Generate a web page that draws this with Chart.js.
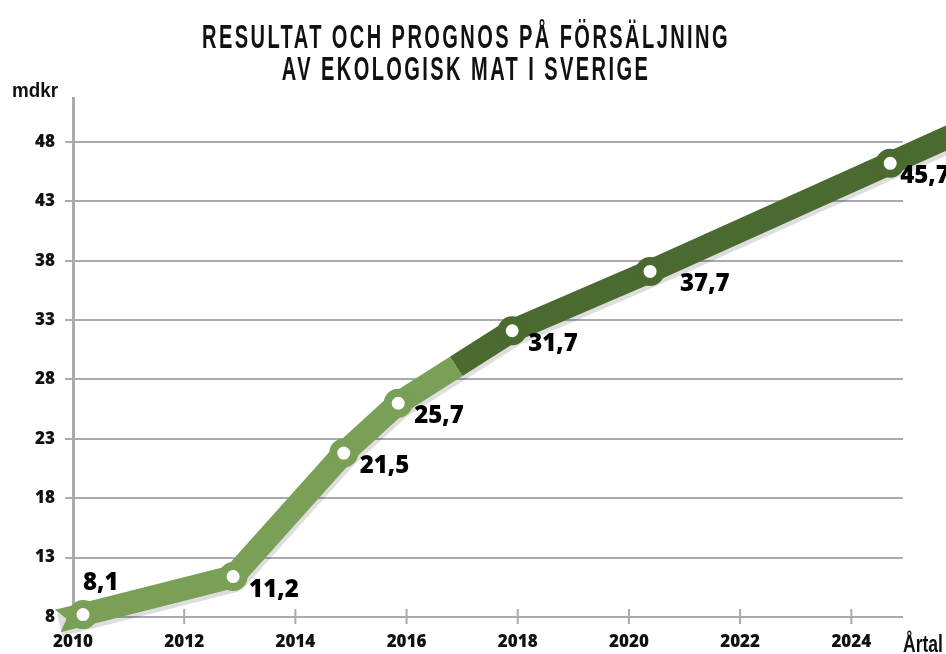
<!DOCTYPE html>
<html>
<head>
<meta charset="utf-8">
<script src="https://cdn.jsdelivr.net/npm/chart.js@4.4.1/dist/chart.umd.min.js"></script>
<style>
  html, body { margin: 0; padding: 0; background: #fff; }
</style>
</head>
<body>
<canvas id="ekoChart" width="946" height="654"></canvas>
<script>
// data
const years = [2010.18, 2012.88, 2014.87, 2015.85, 2017.9, 2020.38, 2024.7];
const sales = [8.2, 11.4, 21.8, 26.0, 32.1, 37.1, 46.2];
const salesLabels = ['8,1', '11,2', '21,5', '25,7', '31,7', '37,7', '45,7'];
const yTicks = [8, 13, 18, 23, 28, 33, 38, 43, 48];
const xTicks = [2010, 2012, 2014, 2016, 2018, 2020, 2022, 2024];
const titleLines = ['RESULTAT OCH PROGNOS PÅ FÖRSÄLJNING', 'AV EKOLOGISK MAT I SVERIGE'];
const yUnit = 'mdkr';
const xUnit = 'Årtal';
const forecastFrom = 2016.9; // where the line turns dark (prognos)

const light = '#7a9f56';
const dark = '#4a6a2f';
const gridGray = '#a9abb0';
const headFont = '"Liberation Sans", Arial, sans-serif';
const bodyFont = '"Open Sans", "Noto Sans", sans-serif';

const lineGradient = ctx => {
  const chart = ctx.chart;
  if (!chart.chartArea) return light;
  const i = years.findIndex(y => y > forecastFrom);
  const xs = chart.scales.x, ys = chart.scales.y;
  const x0 = xs.getPixelForValue(years[i - 1]), y0 = ys.getPixelForValue(sales[i - 1]);
  const x1 = xs.getPixelForValue(years[i]), y1 = ys.getPixelForValue(sales[i]);
  const f = (forecastFrom - years[i - 1]) / (years[i] - years[i - 1]);
  const g = chart.ctx.createLinearGradient(x0, y0, x1, y1);
  g.addColorStop(0, light);
  g.addColorStop(f, light);
  g.addColorStop(f, dark);
  g.addColorStop(1, dark);
  return g;
};

// shadow + the arrow tail and the run-out past the last point
const lineExtras = {
  id: 'lineExtras',
  beforeDatasetsDraw(chart) {
    const pts = chart.getDatasetMeta(0).data;
    if (pts.length < 2) return;
    const ctx = chart.ctx;
    const w = chart.data.datasets[0].borderWidth / 2;
    const a = pts[0], b = pts[1];
    let len = Math.hypot(b.x - a.x, b.y - a.y);
    const u = { x: (b.x - a.x) / len, y: (b.y - a.y) / len };
    const n = { x: -u.y, y: u.x };
    const p = pts[pts.length - 2], q = pts[pts.length - 1];
    len = Math.hypot(q.x - p.x, q.y - p.y);
    const v = { x: (q.x - p.x) / len, y: (q.y - p.y) / len };
    const tail = 26;
    const start = { x: a.x - u.x * tail, y: a.y - u.y * tail };
    const end = { x: q.x + v.x * 120, y: q.y + v.y * 120 };

    ctx.save();
    // soft gray shadow under the whole band
    ctx.translate(2, 4);
    ctx.strokeStyle = 'rgba(0,0,0,0.13)';
    ctx.lineWidth = w * 2;
    ctx.lineJoin = 'round';
    ctx.beginPath();
    ctx.moveTo(start.x, start.y);
    pts.forEach(pt => ctx.lineTo(pt.x, pt.y));
    ctx.lineTo(end.x, end.y);
    ctx.stroke();
    ctx.restore();

    ctx.save();
    // swallow tail at the start
    ctx.fillStyle = light;
    ctx.beginPath();
    ctx.moveTo(a.x + n.x * w, a.y + n.y * w);
    ctx.lineTo(start.x + n.x * w, start.y + n.y * w);
    ctx.lineTo(start.x + u.x * 9, start.y + u.y * 9);
    ctx.lineTo(start.x - n.x * w, start.y - n.y * w);
    ctx.lineTo(a.x - n.x * w, a.y - n.y * w);
    ctx.closePath();
    ctx.fill();
    // run out at the end
    ctx.strokeStyle = dark;
    ctx.lineWidth = w * 2;
    ctx.beginPath();
    ctx.moveTo(q.x, q.y);
    ctx.lineTo(end.x, end.y);
    ctx.stroke();
    ctx.restore();
  }
};

// tick marks crossing the base line
const xTickMarks = {
  id: 'xTickMarks',
  beforeDatasetsDraw(chart) {
    const ctx = chart.ctx, xs = chart.scales.x, bottom = chart.chartArea.bottom;
    ctx.save();
    ctx.strokeStyle = gridGray;
    ctx.lineWidth = 2;
    xTicks.slice(1).forEach(t => {
      const x = xs.getPixelForValue(t);
      ctx.beginPath();
      ctx.moveTo(x, bottom - 8);
      ctx.lineTo(x, bottom + 7);
      ctx.stroke();
    });
    ctx.restore();
  }
};

const valueLabels = {
  id: 'valueLabels',
  afterDatasetsDraw(chart) {
    const ctx = chart.ctx;
    const pts = chart.getDatasetMeta(0).data;
    ctx.save();
    ctx.fillStyle = '#000';
    ctx.font = '800 24px ' + bodyFont;
    ctx.textAlign = 'left';
    ctx.textBaseline = 'alphabetic';
    pts.forEach((pt, i) => {
      if (i === 0) {
        ctx.fillText(salesLabels[i], pt.x, pt.y - 25);
      } else {
        const dx = i === 5 ? 30 : (i === pts.length - 1 ? 10 : 16);
        ctx.fillText(salesLabels[i], pt.x + dx, pt.y + 20);
      }
    });
    ctx.restore();
  }
};

// condensed look: squeeze text horizontally to a given width
function fillSqueezed(ctx, text, x, y, width, align) {
  const m = ctx.measureText(text).width;
  const sx = width / m;
  ctx.save();
  ctx.translate(x, y);
  ctx.scale(sx, 1);
  ctx.textAlign = align;
  ctx.fillText(text, 0, 0);
  ctx.restore();
}

const headings = {
  id: 'headings',
  afterDraw(chart) {
    const ctx = chart.ctx;
    ctx.save();
    ctx.fillStyle = '#111';
    ctx.textBaseline = 'alphabetic';
    ctx.font = 'bold 33px ' + headFont;
    ctx.letterSpacing = '4px';
    const sx = 528 / ctx.measureText(titleLines[0]).width;
    fillSqueezed(ctx, titleLines[0], 466, 48, 528, 'center');
    fillSqueezed(ctx, titleLines[1], 466, 80, ctx.measureText(titleLines[1]).width * sx, 'center');
    ctx.letterSpacing = '0px';
    ctx.font = 'bold 21px ' + headFont;
    fillSqueezed(ctx, yUnit, 12, 97, 46, 'left');
    ctx.font = 'bold 24px ' + headFont;
    fillSqueezed(ctx, xUnit, 903, 652, 40, 'left');
    ctx.restore();
  }
};

new Chart(document.getElementById('ekoChart'), {
  type: 'line',
  data: {
    datasets: [{
      data: years.map((x, i) => ({ x: x, y: sales[i] })),
      borderColor: lineGradient,
      borderWidth: 23,
      borderJoinStyle: 'round',
      borderCapStyle: 'butt',
      pointRadius: 10.5,
      pointHoverRadius: 10.5,
      pointBorderWidth: 8,
      pointBackgroundColor: '#fff',
      pointBorderColor: ctx => years[ctx.dataIndex] < forecastFrom ? light : dark,
      clip: false,
      tension: 0
    }]
  },
  options: {
    responsive: false,
    animation: false,
    devicePixelRatio: 1,
    layout: { padding: { top: 98, right: 43, left: 0, bottom: 0 } },
    plugins: {
      legend: { display: false },
      tooltip: { enabled: false },
      title: { display: false }
    },
    scales: {
      x: {
        type: 'linear',
        min: 2010,
        max: 2024.93,
        afterBuildTicks: s => { s.ticks = xTicks.map(v => ({ value: v })); },
        afterFit: s => { s.height = 37; },
        grid: { display: false, drawTicks: false },
        border: { display: false },
        ticks: {
          padding: 15,
          maxRotation: 0,
          color: '#111',
          font: { family: bodyFont, size: 17, weight: '800' },
          callback: v => String(v)
        }
      },
      y: {
        min: 8,
        max: 51.7,
        afterBuildTicks: s => { s.ticks = yTicks.map(v => ({ value: v })); },
        afterFit: s => { s.width = 73; },
        grid: { color: gridGray, lineWidth: 2, tickLength: 8 },
        border: { display: true, color: gridGray, width: 3 },
        ticks: {
          padding: 10,
          color: '#111',
          font: { family: bodyFont, size: 17, weight: '800' }
        }
      }
    }
  },
  plugins: [xTickMarks, lineExtras, valueLabels, headings]
});
</script>
</body>
</html>
